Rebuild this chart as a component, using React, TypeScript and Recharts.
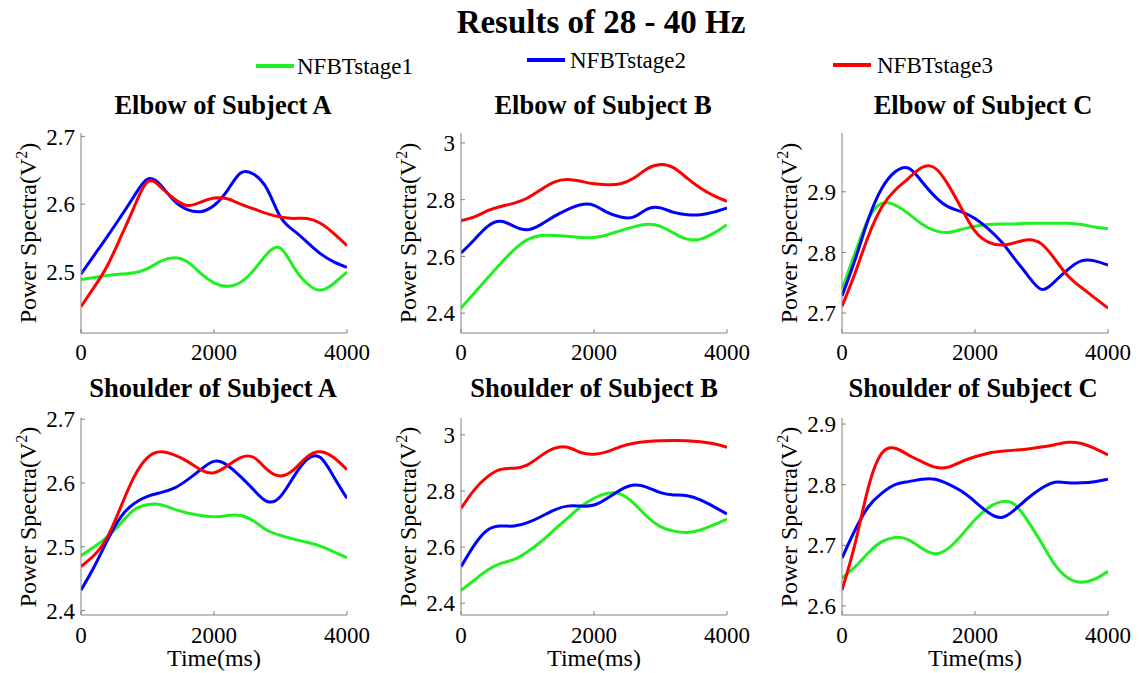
import React from 'react';
import { LineChart, Line, XAxis, YAxis } from 'recharts';

const FONT = "'Liberation Serif', 'Times New Roman', serif";

const times = [0, 200, 400, 600, 800, 1000, 1200, 1400, 1600, 1800, 2000, 2200, 2400, 2600, 2800, 3000, 3200, 3400, 3600, 3800, 4000];
const xTicks = [0, 2000, 4000];
const seriesNames = ['NFBTstage1', 'NFBTstage2', 'NFBTstage3'];
const seriesColors = ['#1ff01f', '#0000ff', '#ff0000'];

// Elbow of Subject A
const elbowA_stage1 = [2.489, 2.492, 2.495, 2.497, 2.499, 2.505, 2.516, 2.521, 2.515, 2.498, 2.484, 2.479, 2.485, 2.503, 2.527, 2.535, 2.507, 2.483, 2.473, 2.483, 2.500];
const elbowA_stage2 = [2.497, 2.525, 2.553, 2.582, 2.612, 2.637, 2.628, 2.605, 2.592, 2.589, 2.598, 2.620, 2.646, 2.644, 2.622, 2.581, 2.561, 2.544, 2.527, 2.515, 2.507];
const elbowA_stage3 = [2.449, 2.478, 2.510, 2.552, 2.596, 2.633, 2.625, 2.608, 2.598, 2.603, 2.609, 2.608, 2.600, 2.593, 2.586, 2.581, 2.579, 2.579, 2.572, 2.557, 2.539];
const elbowA_ticks = [2.5, 2.6, 2.7];

// Elbow of Subject B
const elbowB_stage1 = [2.418, 2.471, 2.524, 2.576, 2.624, 2.659, 2.674, 2.674, 2.671, 2.667, 2.667, 2.676, 2.691, 2.704, 2.713, 2.706, 2.682, 2.661, 2.661, 2.682, 2.712];
const elbowB_stage2 = [2.612, 2.659, 2.706, 2.724, 2.706, 2.694, 2.712, 2.741, 2.765, 2.782, 2.780, 2.755, 2.739, 2.739, 2.767, 2.771, 2.755, 2.747, 2.747, 2.756, 2.771];
const elbowB_stage3 = [2.726, 2.739, 2.761, 2.776, 2.788, 2.806, 2.835, 2.862, 2.871, 2.865, 2.856, 2.853, 2.856, 2.876, 2.909, 2.924, 2.912, 2.876, 2.841, 2.814, 2.794];
const elbowB_ticks = [2.4, 2.6, 2.8, 3];

// Elbow of Subject C
const elbowC_stage1 = [2.739, 2.800, 2.856, 2.881, 2.878, 2.864, 2.847, 2.836, 2.833, 2.838, 2.843, 2.846, 2.847, 2.847, 2.848, 2.848, 2.848, 2.848, 2.846, 2.842, 2.839];
const elbowC_stage2 = [2.728, 2.789, 2.856, 2.906, 2.933, 2.939, 2.917, 2.892, 2.875, 2.867, 2.856, 2.839, 2.817, 2.789, 2.761, 2.739, 2.752, 2.772, 2.786, 2.786, 2.779];
const elbowC_stage3 = [2.711, 2.767, 2.828, 2.875, 2.903, 2.922, 2.940, 2.939, 2.911, 2.872, 2.835, 2.817, 2.812, 2.816, 2.821, 2.814, 2.789, 2.761, 2.742, 2.725, 2.708];
const elbowC_ticks = [2.7, 2.8, 2.9];

// Shoulder of Subject A
const shoulderA_stage1 = [2.486, 2.500, 2.516, 2.537, 2.558, 2.566, 2.566, 2.559, 2.553, 2.549, 2.547, 2.549, 2.549, 2.540, 2.526, 2.518, 2.512, 2.507, 2.501, 2.492, 2.483];
const shoulderA_stage2 = [2.432, 2.469, 2.511, 2.547, 2.568, 2.579, 2.585, 2.592, 2.605, 2.621, 2.634, 2.628, 2.610, 2.589, 2.571, 2.579, 2.610, 2.637, 2.640, 2.610, 2.576];
const shoulderA_stage3 = [2.469, 2.487, 2.516, 2.563, 2.610, 2.640, 2.649, 2.644, 2.634, 2.621, 2.616, 2.627, 2.640, 2.640, 2.621, 2.611, 2.621, 2.641, 2.649, 2.640, 2.621];
const shoulderA_ticks = [2.4, 2.5, 2.6, 2.7];

// Shoulder of Subject B
const shoulderB_stage1 = [2.446, 2.482, 2.518, 2.542, 2.556, 2.583, 2.619, 2.661, 2.702, 2.744, 2.774, 2.792, 2.789, 2.756, 2.708, 2.673, 2.657, 2.652, 2.661, 2.679, 2.700];
const shoulderB_stage2 = [2.530, 2.607, 2.661, 2.675, 2.675, 2.687, 2.708, 2.732, 2.746, 2.746, 2.750, 2.774, 2.804, 2.821, 2.813, 2.794, 2.786, 2.783, 2.768, 2.744, 2.718];
const shoulderB_stage3 = [2.738, 2.804, 2.851, 2.877, 2.881, 2.893, 2.925, 2.952, 2.956, 2.937, 2.931, 2.940, 2.958, 2.970, 2.976, 2.979, 2.980, 2.979, 2.975, 2.968, 2.956];
const shoulderB_ticks = [2.4, 2.6, 2.8, 3];

// Shoulder of Subject C
const shoulderC_stage1 = [2.646, 2.665, 2.688, 2.706, 2.713, 2.709, 2.695, 2.686, 2.695, 2.717, 2.742, 2.762, 2.772, 2.767, 2.739, 2.704, 2.668, 2.646, 2.639, 2.644, 2.657];
const shoulderC_stage2 = [2.679, 2.726, 2.764, 2.786, 2.800, 2.805, 2.809, 2.809, 2.801, 2.789, 2.772, 2.754, 2.746, 2.759, 2.778, 2.794, 2.804, 2.803, 2.803, 2.805, 2.809];
const shoulderC_stage3 = [2.626, 2.704, 2.797, 2.852, 2.860, 2.849, 2.838, 2.829, 2.829, 2.838, 2.846, 2.852, 2.855, 2.857, 2.859, 2.862, 2.866, 2.870, 2.868, 2.860, 2.849];
const shoulderC_ticks = [2.6, 2.7, 2.8, 2.9];

type Panel = {
  title: string;
  s1: number[];
  s2: number[];
  s3: number[];
  domain: [number, number];
  ticks: number[];
  col: number;
  row: number;
  titleX: number;
};

const panels: Panel[] = [
  { title: 'Elbow of Subject A', s1: elbowA_stage1, s2: elbowA_stage2, s3: elbowA_stage3, domain: [2.41, 2.705], ticks: elbowA_ticks, col: 0, row: 0, titleX: 223 },
  { title: 'Elbow of Subject B', s1: elbowB_stage1, s2: elbowB_stage2, s3: elbowB_stage3, domain: [2.33, 3.035], ticks: elbowB_ticks, col: 1, row: 0, titleX: 603 },
  { title: 'Elbow of Subject C', s1: elbowC_stage1, s2: elbowC_stage2, s3: elbowC_stage3, domain: [2.667, 2.997], ticks: elbowC_ticks, col: 2, row: 0, titleX: 983 },
  { title: 'Shoulder of Subject A', s1: shoulderA_stage1, s2: shoulderA_stage2, s3: shoulderA_stage3, domain: [2.393, 2.702], ticks: shoulderA_ticks, col: 0, row: 1, titleX: 213 },
  { title: 'Shoulder of Subject B', s1: shoulderB_stage1, s2: shoulderB_stage2, s3: shoulderB_stage3, domain: [2.358, 3.06], ticks: shoulderB_ticks, col: 1, row: 1, titleX: 594 },
  { title: 'Shoulder of Subject C', s1: shoulderC_stage1, s2: shoulderC_stage2, s3: shoulderC_stage3, domain: [2.585, 2.91], ticks: shoulderC_ticks, col: 2, row: 1, titleX: 973 },
];

const plotLefts = [81, 461, 842];
const plotWidth = 266;
const rowTops = [133, 418];
const rowBottoms = [333, 615];
const titleYs = [105, 388];

const AXIS_COLOR = '#808080';

const XTick = (props: any) => (
  <text x={props.x} y={props.y} dy="0.71em" textAnchor="middle" fill="#000" fontSize={23} fontFamily={FONT}>
    {props.payload.value}
  </text>
);

const YTick = (props: any) => (
  <text x={props.x} y={props.y} dy="0.355em" textAnchor="end" fill="#000" fontSize={23} fontFamily={FONT}>
    {props.payload.value}
  </text>
);

function PanelChart({ p }: { p: Panel }) {
  const data = times.map((t, i) => ({ t, s1: p.s1[i], s2: p.s2[i], s3: p.s3[i] }));
  const plotLeft = plotLefts[p.col];
  const top = rowTops[p.row];
  const bottom = rowBottoms[p.row];
  const yw = 81;
  const xh = 40;
  const marginTop = 13;
  const chartLeft = plotLeft - yw;
  const chartTop = top - marginTop;
  const height = bottom - top + marginTop + xh;
  const width = yw + plotWidth + 26;
  return (
    <div style={{ position: 'absolute', left: chartLeft, top: chartTop }}>
      <LineChart width={width} height={height} data={data} margin={{ top: marginTop, right: 26, bottom: 0, left: 0 }} style={{ fontFamily: FONT }}>
        <XAxis
          dataKey="t"
          type="number"
          domain={[0, 4000]}
          ticks={xTicks}
          height={xh}
          tick={XTick}
          tickSize={-4}
          tickMargin={p.row === 0 ? 15 : 16}
          axisLine={{ stroke: AXIS_COLOR }}
          tickLine={{ stroke: AXIS_COLOR }}
          allowDataOverflow
        />
        <YAxis
          type="number"
          domain={p.domain}
          ticks={p.ticks}
          width={yw}
          tick={YTick}
          tickSize={-4}
          tickMargin={10}
          axisLine={{ stroke: AXIS_COLOR }}
          tickLine={{ stroke: AXIS_COLOR }}
          allowDataOverflow
        />
        <Line dataKey="s1" name={seriesNames[0]} type="natural" stroke={seriesColors[0]} strokeWidth={3} dot={false} isAnimationActive={false} />
        <Line dataKey="s2" name={seriesNames[1]} type="natural" stroke={seriesColors[1]} strokeWidth={3} dot={false} isAnimationActive={false} />
        <Line dataKey="s3" name={seriesNames[2]} type="natural" stroke={seriesColors[2]} strokeWidth={3} dot={false} isAnimationActive={false} />
      </LineChart>
    </div>
  );
}

const centered = (x: number, y: number): React.CSSProperties => ({
  position: 'absolute',
  left: x,
  top: y,
  transform: 'translate(-50%, -50%)',
  whiteSpace: 'nowrap',
  lineHeight: 1,
});

const legendItems = [
  { lineX: 256, textX: 297, y: 66 },
  { lineX: 527, textX: 570, y: 60 },
  { lineX: 833, textX: 877, y: 65 },
];

export default function App() {
  return (
    <div style={{ position: 'absolute', left: 0, top: 0, width: 1139, height: 673, background: '#fff', fontFamily: FONT, color: '#000', overflow: 'hidden' }}>
      <div style={{ ...centered(601, 22), fontSize: 33, fontWeight: 'bold' }}>Results of 28 - 40 Hz</div>
      {legendItems.map((l, i) => (
        <React.Fragment key={i}>
          <div style={{ position: 'absolute', left: l.lineX, top: l.y - 2, width: 38, height: 4, background: seriesColors[i] }} />
          <div style={{ position: 'absolute', left: l.textX, top: l.y, transform: 'translateY(-50%)', fontSize: 23, lineHeight: 1, whiteSpace: 'nowrap' }}>{seriesNames[i]}</div>
        </React.Fragment>
      ))}
      {panels.map((p, i) => (
        <React.Fragment key={i}>
          <div style={{ ...centered(p.titleX, titleYs[p.row]), fontSize: 26.5, fontWeight: 'bold' }}>{p.title}</div>
          <div style={{ ...centered(plotLefts[p.col] - 53, (rowTops[p.row] + rowBottoms[p.row]) / 2), transform: 'translate(-50%, -50%) rotate(-90deg)', fontSize: 24 }}>
            Power Spectra(V<sup style={{ fontSize: 16, lineHeight: 0 }}>2</sup>)
          </div>
          {p.row === 1 && (
            <div style={{ ...centered(plotLefts[p.col] + plotWidth / 2, 658), fontSize: 24 }}>Time(ms)</div>
          )}
          <PanelChart p={p} />
        </React.Fragment>
      ))}
    </div>
  );
}
